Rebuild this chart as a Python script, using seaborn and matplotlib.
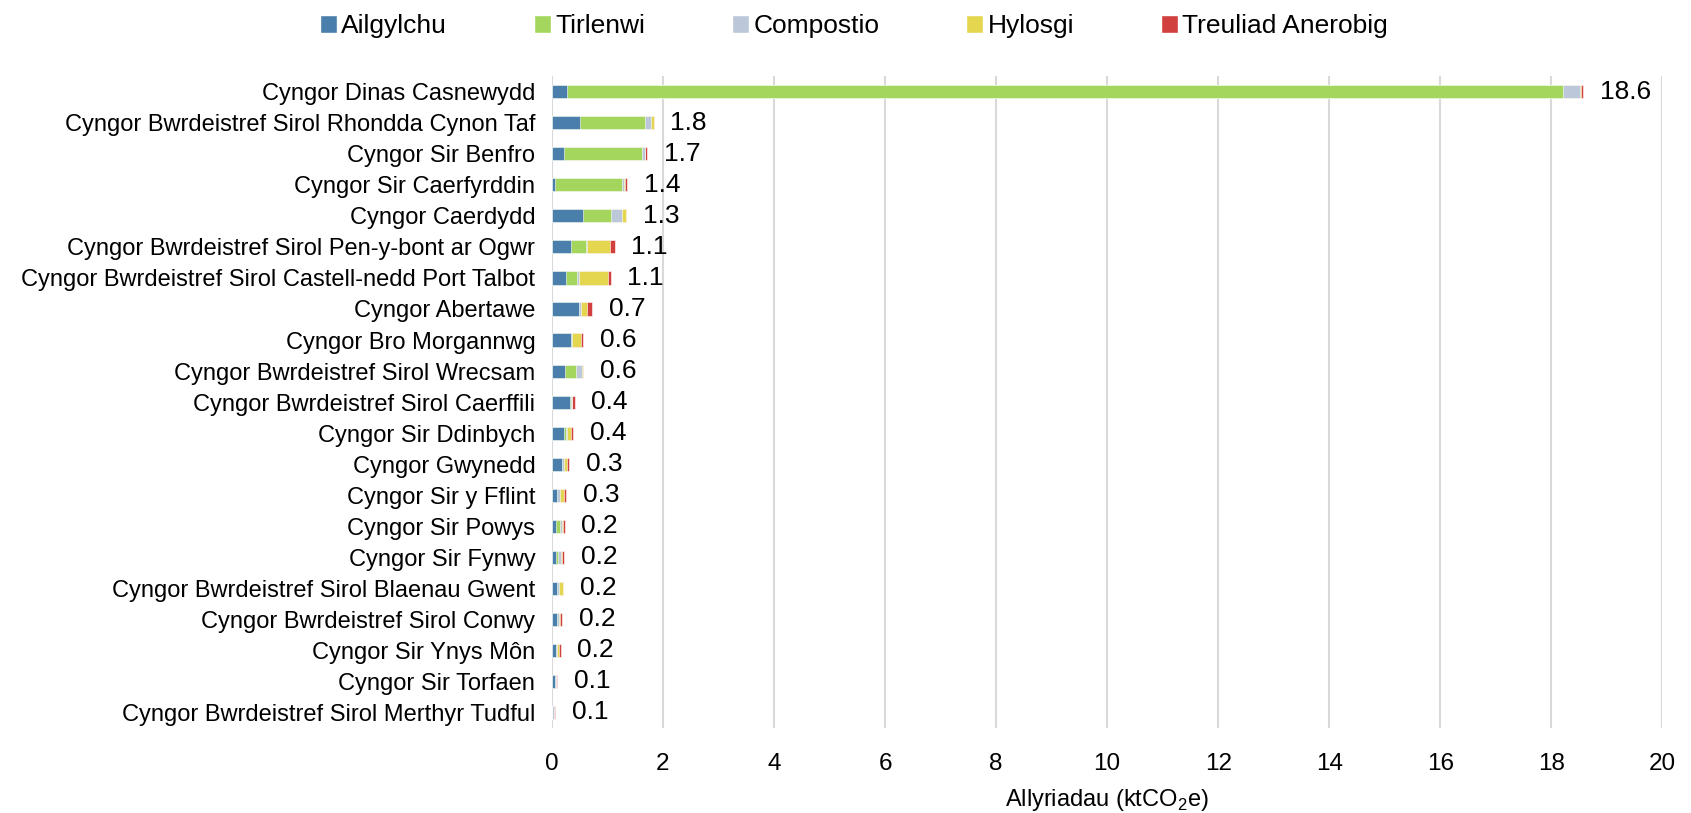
import numpy as np
import pandas as pd
import matplotlib
matplotlib.use("Agg")
import matplotlib.pyplot as plt
from matplotlib.patches import Patch
import seaborn as sns

# councils, top to bottom
councils = [
    "Cyngor Dinas Casnewydd",
    "Cyngor Bwrdeistref Sirol Rhondda Cynon Taf",
    "Cyngor Sir Benfro",
    "Cyngor Sir Caerfyrddin",
    "Cyngor Caerdydd",
    "Cyngor Bwrdeistref Sirol Pen-y-bont ar Ogwr",
    "Cyngor Bwrdeistref Sirol Castell-nedd Port Talbot",
    "Cyngor Abertawe",
    "Cyngor Bro Morgannwg",
    "Cyngor Bwrdeistref Sirol Wrecsam",
    "Cyngor Bwrdeistref Sirol Caerffili",
    "Cyngor Sir Ddinbych",
    "Cyngor Gwynedd",
    "Cyngor Sir y Fflint",
    "Cyngor Sir Powys",
    "Cyngor Sir Fynwy",
    "Cyngor Bwrdeistref Sirol Blaenau Gwent",
    "Cyngor Bwrdeistref Sirol Conwy",
    "Cyngor Sir Ynys Môn",
    "Cyngor Sir Torfaen",
    "Cyngor Bwrdeistref Sirol Merthyr Tudful",
]

# emissions by waste route (ktCO2e)
ailgylchu = [0.28, 0.50, 0.21, 0.05, 0.56, 0.34, 0.25, 0.49, 0.34, 0.23, 0.33,
             0.21, 0.18, 0.10, 0.07, 0.08, 0.09, 0.10, 0.07, 0.05, 0.0]
tirlenwi = [17.93, 1.17, 1.41, 1.21, 0.50, 0.28, 0.20, 0.0, 0.0, 0.21, 0.01,
            0.04, 0.0, 0.0, 0.07, 0.03, 0.0, 0.0, 0.0, 0.0, 0.0]
compostio = [0.31, 0.12, 0.05, 0.04, 0.21, 0.02, 0.03, 0.03, 0.02, 0.10, 0.02,
             0.03, 0.04, 0.04, 0.04, 0.05, 0.04, 0.03, 0.015, 0.02, 0.03]
hylosgi = [0.02, 0.04, 0.01, 0.01, 0.07, 0.41, 0.53, 0.12, 0.16, 0.02, 0.01,
           0.06, 0.05, 0.07, 0.02, 0.02, 0.07, 0.01, 0.04, 0.0, 0.0]
treuliad = [0.04, 0.0, 0.04, 0.05, 0.0, 0.08, 0.05, 0.08, 0.04, 0.0, 0.04,
            0.04, 0.04, 0.05, 0.03, 0.04, 0.0, 0.04, 0.035, 0.03, 0.025]

series_names = ["Ailgylchu", "Tirlenwi", "Compostio", "Hylosgi", "Treuliad Anerobig"]
colors = ["#4a7eab", "#a4d65e", "#bcc8da", "#e4d64f", "#d23f3f"]

df = pd.DataFrame({"council": councils,
                   "Ailgylchu": ailgylchu,
                   "Tirlenwi": tirlenwi,
                   "Compostio": compostio,
                   "Hylosgi": hylosgi,
                   "Treuliad Anerobig": treuliad})
cum = df[series_names].cumsum(axis=1)
totals = cum[series_names[-1]]

sns.set_style("white")
plt.rcParams["font.family"] = ["Liberation Sans", "DejaVu Sans"]
plt.rcParams["mathtext.fontset"] = "custom"
plt.rcParams["mathtext.rm"] = "Liberation Sans"
plt.rcParams["text.color"] = "black"
plt.rcParams["xtick.color"] = "black"
plt.rcParams["ytick.color"] = "black"
plt.rcParams["axes.labelcolor"] = "black"

fig = plt.figure(figsize=(16.91, 8.13), dpi=100)
ax = fig.add_axes([0.3264, 0.105, 0.6566, 0.801])

# stacked bars: draw cumulative totals from the outermost layer inwards
for name, col in reversed(list(zip(series_names, colors))):
    sns.barplot(x=cum[name], y=df["council"], orient="h", color=col,
                width=0.42, saturation=1, edgecolor="white", linewidth=0.4,
                ax=ax, zorder=3)

for i, t in enumerate(totals):
    ax.text(t + 0.3, i, f"{t:.1f}", va="center", ha="left", fontsize=19)

ax.set_xlim(0, 20)
ax.set_xticks(np.arange(0, 21, 2))
ax.set_ylim(len(councils) - 0.5, -0.5)
ax.grid(axis="x", color="#d9d9d9", linewidth=1.5, zorder=0)
ax.set_axisbelow(True)
for s in ax.spines.values():
    s.set_visible(False)
ax.tick_params(axis="y", length=0, labelsize=17, pad=12)
ax.tick_params(axis="x", length=0, labelsize=17.5, pad=18)
ax.set_ylabel("")
ax.set_xlabel("Allyriadau (ktCO$_2$e)", fontsize=17, labelpad=9)

handles = [Patch(facecolor=c, label=n) for n, c in zip(series_names, colors)]
fig.legend(handles=handles, loc="center", bbox_to_anchor=(0.505, 0.968), ncol=5,
           frameon=False, fontsize=19, handlelength=0.65, handleheight=0.65,
           handletextpad=0.15, columnspacing=3.3)

fig.savefig("out.png", dpi=100)
